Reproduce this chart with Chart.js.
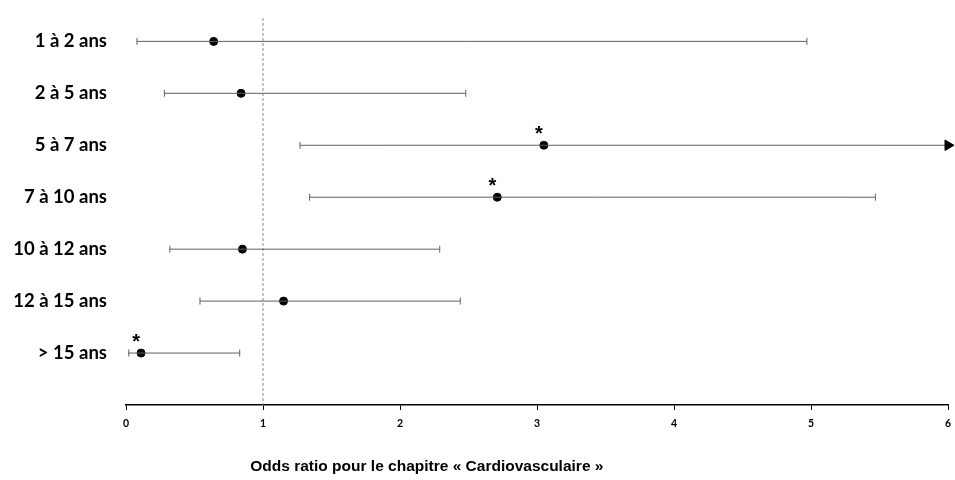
<!DOCTYPE html>
<html lang="fr">
<head>
<meta charset="UTF-8">
<title>Odds ratio - Cardiovasculaire</title>
<script src="https://cdn.jsdelivr.net/npm/chart.js"></script>
<style>
  html, body { margin: 0; padding: 0; background: #fff; }
  #wrap { width: 955px; height: 480px; }
</style>
</head>
<body>
<div id="wrap"><canvas id="orChart" width="955" height="480"></canvas></div>
<script>
const ageGroups = ['1 à 2 ans', '2 à 5 ans', '5 à 7 ans', '7 à 10 ans', '10 à 12 ans', '12 à 15 ans', '> 15 ans'];
const oddsRatio = [0.64, 0.84, 3.05, 2.71, 0.85, 1.15, 0.11];
const ciLow = [0.08, 0.28, 1.27, 1.34, 0.32, 0.54, 0.02];
const ciHigh = [4.97, 2.48, 6, 5.47, 2.29, 2.44, 0.83];   // 5 à 7 ans goes past 6 (arrow)
const significant = [false, false, true, true, false, false, true];
const xTicks = [0, 1, 2, 3, 4, 5, 6];
const caption = 'Odds ratio pour le chapitre « Cardiovasculaire »';

const datasets = [];

// confidence intervals, one small line per group
ageGroups.forEach((g, i) => {
    const cut = ciHigh[i] >= 6;
    datasets.push({
        type: 'line',
        data: [{ x: ciLow[i], y: i }, { x: ciHigh[i], y: i }],
        borderColor: '#606060',
        borderWidth: 1,
        pointStyle: cut ? ['line', 'triangle'] : 'line',
        pointRadius: cut ? [3.5, 6] : 3.5,
        pointRotation: 90,
        pointBorderColor: cut ? ['#606060', '#000'] : '#606060',
        pointBackgroundColor: '#000',
        pointBorderWidth: 1,
        clip: false
    });
});

// reference line at OR = 1
datasets.push({
    type: 'line',
    data: [{ x: 1, y: -0.45 }, { x: 1, y: 7 }],
    borderColor: '#8a8a8a',
    borderWidth: 1,
    borderDash: [3, 2],
    pointRadius: 0
});

// point estimates
datasets.push({
    type: 'scatter',
    data: oddsRatio.map((v, i) => ({ x: v, y: i })),
    backgroundColor: '#000',
    borderColor: '#000',
    pointRadius: 4,
    clip: false
});

const starsAndCaption = {
    id: 'starsAndCaption',
    afterDatasetsDraw(chart) {
        const { ctx, scales: { x, y }, chartArea } = chart;
        ctx.save();
        ctx.fillStyle = '#000';
        ctx.font = 'bold 20px "Liberation Sans", Arial, sans-serif';
        ctx.textAlign = 'center';
        ctx.textBaseline = 'middle';
        significant.forEach((s, i) => {
            if (!s) return;
            ctx.fillText('*', x.getPixelForValue(oddsRatio[i]) - 5, y.getPixelForValue(i) - 11);
        });
        ctx.font = 'bold 15.5px "Liberation Sans", Arial, sans-serif';
        ctx.fillText(caption, chartArea.left + (chartArea.right - chartArea.left) * 0.366, 467);
        ctx.restore();
    }
};

function noPadding(scale) {
    scale.paddingTop = 0;
    scale.paddingBottom = 0;
    scale.paddingLeft = 0;
    scale.paddingRight = 0;
}

new Chart(document.getElementById('orChart'), {
    data: { datasets: datasets },
    options: {
        responsive: false,
        animation: false,
        events: [],
        layout: { padding: { top: 18, right: -3, left: 0, bottom: 0 } },
        plugins: { legend: { display: false }, tooltip: { enabled: false } },
        scales: {
            x: {
                type: 'linear',
                min: 0,
                max: 6,
                afterBuildTicks: scale => { scale.ticks = xTicks.map(v => ({ value: v })); },
                afterFit: scale => {
                    scale.height = 75;
                    noPadding(scale);
                },
                border: { display: true, color: '#000', width: 1.5 },
                grid: { drawOnChartArea: false, drawTicks: true, tickLength: 5, color: '#000', lineWidth: 1 },
                ticks: {
                    color: '#000',
                    padding: 7,
                    font: { family: 'Lato', weight: 'bold', size: 10.5 }
                }
            },
            y: {
                type: 'linear',
                reverse: true,
                min: -0.45,
                max: 7,
                afterBuildTicks: scale => { scale.ticks = ageGroups.map((g, i) => ({ value: i })); },
                afterFit: scale => {
                    scale.width = 126;
                    noPadding(scale);
                },
                border: { display: false },
                grid: { display: false, drawTicks: false },
                ticks: {
                    color: '#000',
                    padding: 19,
                    callback: v => ageGroups[v],
                    font: { family: 'Lato', weight: 'bold', size: 18.5 }
                }
            }
        }
    },
    plugins: [starsAndCaption]
});
</script>
</body>
</html>
